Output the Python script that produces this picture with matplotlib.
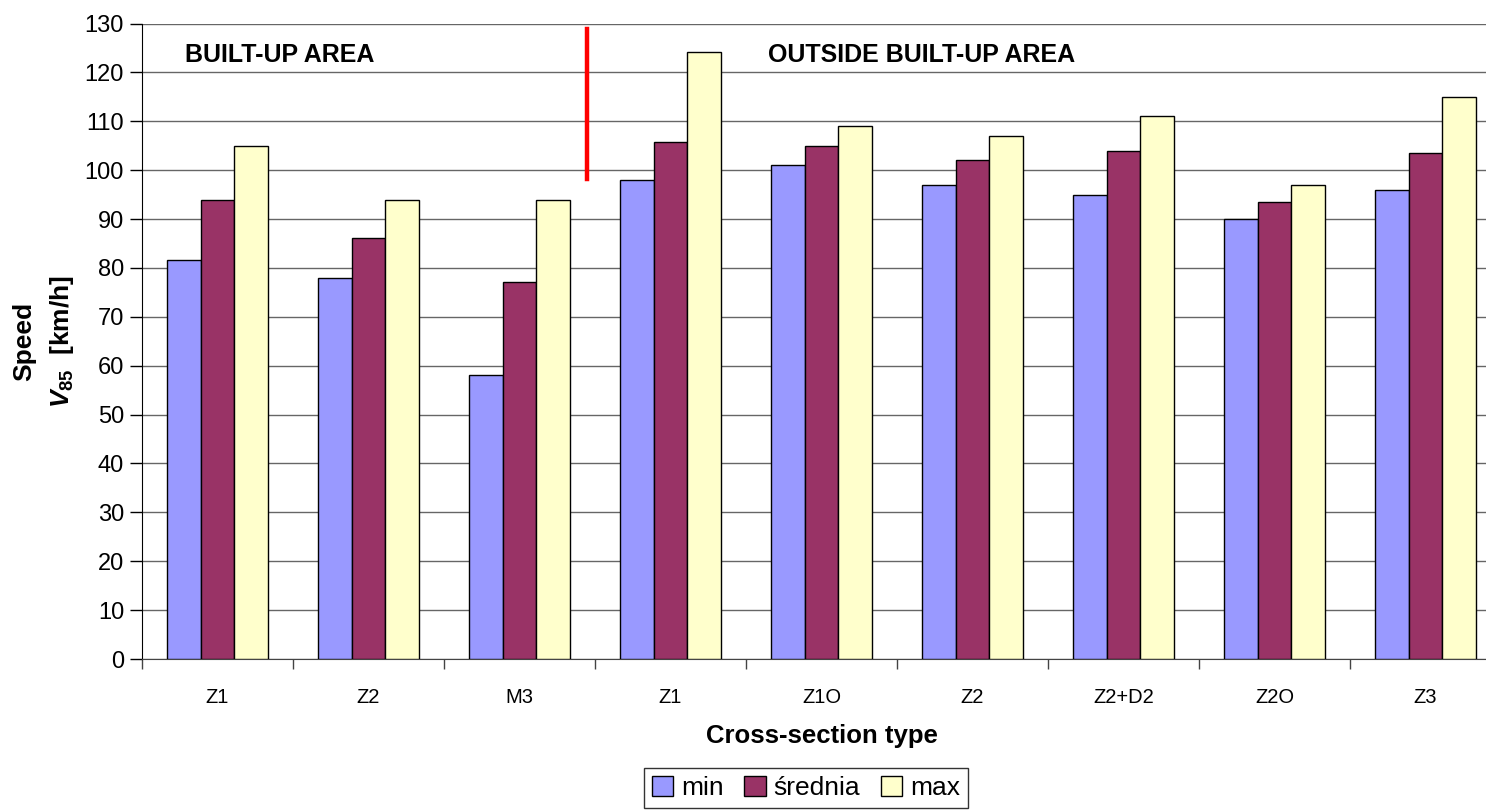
import matplotlib.pyplot as plt
import numpy as np

plt.rcParams['font.family'] = ['Liberation Sans', 'DejaVu Sans']
plt.rcParams['mathtext.fontset'] = 'custom'
plt.rcParams['mathtext.it'] = 'Liberation Sans:italic:bold'
plt.rcParams['mathtext.rm'] = 'Liberation Sans:bold'

categories = ['Z1', 'Z2', 'M3', 'Z1', 'Z1O', 'Z2', 'Z2+D2', 'Z2O', 'Z3']
v_min = [81.6, 78.0, 58.2, 98.0, 101.1, 97.0, 94.9, 90.0, 95.9]
v_avg = [93.9, 86.2, 77.2, 105.7, 104.9, 102.1, 103.9, 93.4, 103.6]
v_max = [104.9, 94.0, 94.0, 124.2, 109.0, 107.0, 111.1, 97.0, 115.0]
series_names = ['min', 'średnia', 'max']
colors = ['#9999FF', '#993366', '#FFFFCC']

fig = plt.figure(figsize=(14.86, 8.11), dpi=100)
ax = fig.add_axes([0.0956, 0.1874, 0.9145, 0.7836])

x = np.arange(len(categories))
w = 0.224
for i, (vals, name, c) in enumerate(zip([v_min, v_avg, v_max], series_names, colors)):
    ax.bar(x + (i - 1) * w, vals, w, color=c, edgecolor='black', linewidth=1,
           label=name, zorder=3)

ax.set_xlim(-0.5, len(categories) - 0.5)
ax.set_ylim(0, 130)
ax.set_yticks(np.arange(0, 131, 10))
ax.yaxis.grid(True, color='#666666', linewidth=1, zorder=0)
ax.set_axisbelow(True)

ax.set_xticks(x)
ax.set_xticklabels(categories, fontsize=14.5)
ax.set_xticks(np.arange(-0.5, len(categories)), minor=True)
ax.tick_params(axis='x', which='major', length=0, pad=21)
ax.tick_params(axis='x', which='minor', length=7, width=1, color='#444444', direction='out')
ax.tick_params(axis='y', length=9, width=1, direction='out', labelsize=17, pad=4)

for s in ['top', 'right']:
    ax.spines[s].set_visible(False)
ax.spines['left'].set_color('black')
ax.spines['bottom'].set_color('#444444')

ax.set_xlabel('Cross-section type', fontsize=18.5, fontweight='bold', labelpad=12)
ax.set_ylabel('Speed\n$V_{\\mathit{85}}$  [km/h]', fontsize=19, fontweight='bold',
              linespacing=1.6)
ax.yaxis.label.set_verticalalignment('center')
ax.yaxis.set_label_coords(-0.0721, 0.5)

ax.text(-0.215, 123.5, 'BUILT-UP AREA', fontsize=18, fontweight='bold', va='center')
ax.text(3.646, 123.5, 'OUTSIDE BUILT-UP AREA', fontsize=18, fontweight='bold', va='center')
ax.plot([2.447, 2.447], [98.2, 128.8], color='red', linewidth=3.2, zorder=4)

leg = fig.legend(loc='upper center', bbox_to_anchor=(806 / 1486, 1 - 768 / 811),
                 ncol=3, fontsize=19, frameon=True, fancybox=False, edgecolor='black',
                 borderaxespad=0, handlelength=0.8, handleheight=0.8,
                 handletextpad=0.3, columnspacing=0.8, borderpad=0.3)
leg.get_frame().set_linewidth(1)

fig.savefig('out.png', dpi=100)
